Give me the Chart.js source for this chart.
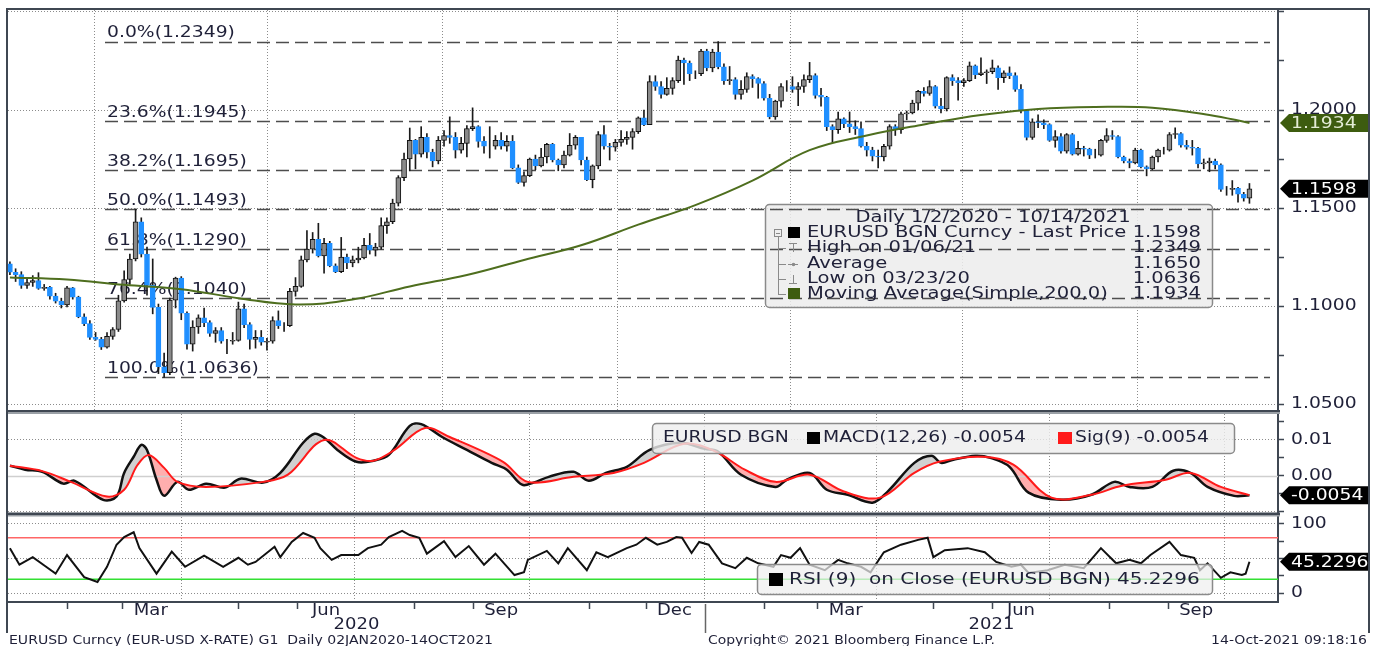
<!DOCTYPE html>
<html>
<head>
<meta charset="utf-8">
<script src="https://cdn.jsdelivr.net/npm/chart.js@4.4.0/dist/chart.umd.min.js"></script>
<style>
  html, body { margin: 0; padding: 0; background: #fff; }
  #wrap { position: relative; width: 1380px; height: 646px; overflow: hidden; }
  #wrap canvas { position: absolute; left: 0; top: 0; }
</style>
</head>
<body>
<div id="wrap">
  <canvas id="priceChart" width="1380" height="646"></canvas>
  <canvas id="macdChart" width="1380" height="646"></canvas>
  <canvas id="rsiChart" width="1380" height="646"></canvas>
</div>
<script>
// ---- data (x = calendar days since 2 Jan 2020) ----
const stepDays = 3;          // one price bar every 3 days
const firstOpen = 1.1215;
const closes = [
  1.1172,1.1160,1.1105,1.1120,1.1130,1.1090,1.1095,1.1050,1.1025,1.1005,
  1.1093,1.1045,1.0945,1.0910,1.0840,1.0830,1.0790,1.0845,1.0880,1.1026,
  1.1135,1.1240,1.1430,1.1265,1.1105,1.0993,1.0690,1.0660,1.1030,1.1142,
  1.0963,1.0805,1.0893,1.0940,1.0915,1.0860,1.0875,1.0820,1.0820,1.0825,
  1.0985,1.0905,1.0830,1.0840,1.0815,1.0820,1.0925,1.0900,1.0900,1.1075,
  1.1100,1.1235,1.1290,1.1340,1.1255,1.1320,1.1205,1.1175,1.1250,1.1220,
  1.1235,1.1245,1.1310,1.1285,1.1300,1.1410,1.1430,1.1525,1.1655,1.1750,
  1.1845,1.1775,1.1860,1.1785,1.1740,1.1845,1.1870,1.1860,1.1795,1.1830,
  1.1905,1.1915,1.1840,1.1815,1.1815,1.1845,1.1815,1.1840,1.1705,1.1630,
  1.1665,1.1750,1.1715,1.1760,1.1825,1.1745,1.1720,1.1770,1.1820,1.1860,
  1.1745,1.1645,1.1715,1.1875,1.1815,1.1810,1.1835,1.1850,1.1860,1.1890,
  1.1960,1.1925,1.2145,1.2120,1.2080,1.2110,1.2150,1.2255,1.2240,1.2185,
  1.2185,1.2300,1.2215,1.2295,1.2220,1.2150,1.2155,1.2080,1.2105,1.2170,
  1.2160,1.2135,1.2060,1.1965,1.2045,1.2120,1.2120,1.2105,1.2120,1.2155,
  1.2175,1.2075,1.2065,1.1915,1.1900,1.1955,1.1930,1.1915,1.1905,1.1815,
  1.1795,1.1765,1.1760,1.1815,1.1915,1.1900,1.1980,1.1985,1.2035,1.2095,
  1.2085,1.2120,1.2020,1.2005,1.2165,1.2150,1.2140,1.2150,1.2225,1.2180,
  1.2190,1.2195,1.2215,1.2165,1.2190,1.2175,1.2105,1.1995,1.1860,1.1940,
  1.1935,1.1925,1.1845,1.1865,1.1790,1.1875,1.1775,1.1805,1.1800,1.1770,
  1.1770,1.1845,1.1870,1.1865,1.1760,1.1740,1.1730,1.1795,1.1710,1.1700,
  1.1760,1.1795,1.1795,1.1875,1.1880,1.1820,1.1810,1.1805,1.1725,1.1730,
  1.1740,1.1720,1.1595,1.1595,1.1600,1.1570,1.1550,1.1598
];
const highs = [
  1.1225,1.1190,1.1175,1.1140,1.1155,1.1170,1.1110,1.1100,1.1065,1.1040,
  1.1100,1.1095,1.1050,1.0960,1.0925,1.0865,1.0840,1.0865,1.0890,1.1055,
  1.1180,1.1265,1.1495,1.1450,1.1300,1.1240,1.1010,1.0760,1.1040,1.1147,
  1.1150,1.0970,1.0925,1.0955,1.0990,1.0925,1.0890,1.0890,1.0830,1.0865,
  1.1020,1.1010,1.0915,1.0875,1.0875,1.0835,1.0945,1.0975,1.0915,1.1090,
  1.1145,1.1255,1.1385,1.1375,1.1422,1.1345,1.1330,1.1215,1.1350,1.1265,
  1.1255,1.1300,1.1345,1.1370,1.1320,1.1450,1.1450,1.1545,1.1665,1.1780,
  1.1908,1.1850,1.1915,1.1880,1.1800,1.1865,1.1895,1.1965,1.1885,1.1860,
  1.1920,1.2011,1.1920,1.1865,1.1915,1.1870,1.1885,1.1870,1.1870,1.1720,
  1.1685,1.1755,1.1770,1.1805,1.1830,1.1830,1.1750,1.1790,1.1880,1.1870,
  1.1860,1.1760,1.1720,1.1890,1.1920,1.1830,1.1850,1.1895,1.1890,1.1905,
  1.1965,1.2000,1.2175,1.2175,1.2145,1.2165,1.2165,1.2275,1.2265,1.2250,
  1.2200,1.2310,1.2310,1.2310,1.2349,1.2235,1.2222,1.2165,1.2150,1.2190,
  1.2180,1.2165,1.2145,1.2080,1.2050,1.2135,1.2150,1.2170,1.2140,1.2180,
  1.2243,1.2185,1.2110,1.2070,1.1925,1.1990,1.1960,1.1990,1.1945,1.1940,
  1.1835,1.1810,1.1795,1.1825,1.1925,1.1925,1.1990,1.1995,1.2050,1.2100,
  1.2115,1.2150,1.2125,1.2060,1.2170,1.2180,1.2165,1.2160,1.2245,1.2230,
  1.2266,1.2205,1.2255,1.2225,1.2200,1.2220,1.2190,1.2130,1.2000,1.1955,
  1.1975,1.1950,1.1930,1.1895,1.1880,1.1880,1.1880,1.1840,1.1815,1.1805,
  1.1800,1.1850,1.1905,1.1895,1.1870,1.1765,1.1750,1.1805,1.1800,1.1715,
  1.1765,1.1800,1.1810,1.1885,1.1909,1.1885,1.1845,1.1845,1.1810,1.1750,
  1.1755,1.1750,1.1725,1.1610,1.1640,1.1605,1.1580,1.1625
];
const lows = [
  1.1160,1.1125,1.1090,1.1090,1.1100,1.1085,1.1080,1.1035,1.1015,1.0990,
  1.0995,1.1035,1.0940,1.0900,1.0830,1.0825,1.0778,1.0785,1.0830,1.0870,
  1.1020,1.1110,1.1230,1.1250,1.1055,1.0960,1.0655,1.0636,1.0650,1.0990,
  1.0930,1.0780,1.0770,1.0860,1.0895,1.0845,1.0815,1.0810,1.0757,1.0805,
  1.0820,1.0890,1.0780,1.0785,1.0800,1.0775,1.0810,1.0885,1.0870,1.0895,
  1.1050,1.1095,1.1225,1.1270,1.1250,1.1168,1.1200,1.1170,1.1170,1.1190,
  1.1200,1.1220,1.1240,1.1265,1.1255,1.1290,1.1370,1.1420,1.1510,1.1640,
  1.1690,1.1700,1.1760,1.1755,1.1710,1.1725,1.1815,1.1830,1.1755,1.1780,
  1.1760,1.1895,1.1810,1.1780,1.1755,1.1800,1.1800,1.1790,1.1700,1.1625,
  1.1612,1.1660,1.1695,1.1710,1.1730,1.1735,1.1690,1.1705,1.1765,1.1800,
  1.1720,1.1640,1.1603,1.1700,1.1800,1.1745,1.1790,1.1815,1.1825,1.1800,
  1.1880,1.1920,1.1925,1.2100,1.2060,1.2075,1.2080,1.2140,1.2130,1.2150,
  1.2160,1.2175,1.2200,1.2195,1.2210,1.2130,1.2130,1.2055,1.2055,1.2090,
  1.2115,1.2060,1.2050,1.1955,1.1952,1.2015,1.2095,1.2090,1.2022,1.2090,
  1.2140,1.2060,1.2020,1.1895,1.1835,1.1880,1.1910,1.1885,1.1875,1.1810,
  1.1765,1.1740,1.1704,1.1740,1.1800,1.1870,1.1880,1.1950,1.1980,1.2000,
  1.2070,1.2075,1.2010,1.1985,1.1995,1.2125,1.2050,1.2120,1.2145,1.2160,
  1.2175,1.2135,1.2185,1.2105,1.2140,1.2160,1.2095,1.1985,1.1847,1.1850,
  1.1910,1.1905,1.1840,1.1810,1.1780,1.1780,1.1770,1.1770,1.1765,1.1752,
  1.1755,1.1765,1.1835,1.1850,1.1755,1.1730,1.1705,1.1725,1.1705,1.1664,
  1.1695,1.1735,1.1775,1.1790,1.1855,1.1810,1.1800,1.1770,1.1705,1.1700,
  1.1685,1.1700,1.1585,1.1565,1.1565,1.1530,1.1535,1.1524
];

// 200 day simple moving average
const maDays = [0, 30, 60, 90, 120, 150, 180, 210, 240, 270, 300, 330, 360, 390, 420, 450, 480, 510, 540, 570, 600, 630, 651];
const maVals = [1.1146, 1.1135, 1.1108, 1.1086, 1.1040, 1.1008, 1.1033, 1.1100, 1.1158, 1.1235, 1.1310, 1.1415, 1.1515, 1.1640, 1.1795, 1.1870, 1.1926, 1.1975, 1.2005, 1.2015, 1.2012, 1.1975, 1.1934];

// MACD(12,26) and signal(9)
const macdDays = [0,8,17,28,34,49,56,60,65,69,72,77,81,88,94,103,113,121,133,142,154,160,165,172,182,191,199,210,216,227,240,253,261,269,275,283,296,304,313,324,336,352,365,372,384,402,408,420,429,440,453,461,475,484,489,495,507,515,525,535,552,568,580,588,600,611,620,629,643,651];
const macdVals = [0.0028,0.0017,0.0011,-0.0022,-0.0014,-0.0067,-0.0058,0.0008,0.0053,0.0086,0.0072,-0.0011,-0.0056,-0.0017,-0.0039,-0.0022,-0.0033,-0.0008,-0.0019,0.0008,0.0092,0.0117,0.0106,0.0072,0.0039,0.0042,0.0058,0.0139,0.0144,0.0108,0.0072,0.0036,0.0017,-0.0025,-0.0019,-0.0003,0.0011,-0.0014,0.0008,0.0025,0.0072,0.0092,0.0075,0.0067,0.0003,-0.0031,-0.0011,0.0008,-0.0039,-0.0053,-0.0075,-0.0044,0.0036,0.0056,0.0036,0.0044,0.0056,0.0050,0.0025,-0.0047,-0.0067,-0.0053,-0.0017,-0.0031,-0.0031,0.0014,0.0008,-0.0031,-0.0056,-0.0054];
const sigDays = [0,17,32,51,60,67,73,81,88,103,133,146,165,182,191,202,218,231,259,272,296,317,333,354,370,386,402,420,438,457,475,488,511,527,547,568,584,607,620,636,651];
const sigVals = [0.0028,0.0013,-0.0017,-0.0058,-0.0039,0.0030,0.0058,0.0022,-0.0017,-0.0031,-0.0017,0.0003,0.0100,0.0050,0.0042,0.0072,0.0133,0.0108,0.0039,-0.0017,-0.0003,0.0008,0.0036,0.0089,0.0069,0.0017,-0.0017,0.0003,-0.0044,-0.0061,0.0008,0.0039,0.0053,0.0031,-0.0061,-0.0053,-0.0028,-0.0011,0.0008,-0.0031,-0.0054];

// RSI(9)
const rsiDays = [0,5,12,19,24,30,39,46,51,56,60,65,68,77,85,92,102,112,120,125,129,139,142,148,154,160,163,169,174,183,188,195,199,206,210,215,219,228,234,241,249,255,265,270,272,282,288,293,303,308,314,324,329,334,340,345,350,353,358,362,367,374,381,387,393,401,405,410,415,420,428,435,440,447,452,459,468,477,482,485,491,503,512,518,526,531,535,545,554,564,573,581,588,594,599,609,615,622,625,629,636,641,647,649,651];
const rsiVals = [65,41,52,38,28,55,23,16,38,70,81,88,65,28,60,38,54,38,51,41,45,67,52,74,87,80,65,48,55,55,65,70,81,90,84,80,57,75,52,68,41,57,26,30,48,61,43,65,33,59,52,65,70,80,70,74,81,80,58,74,70,43,36,51,43,38,55,51,65,41,33,48,43,38,30,59,70,77,80,52,62,65,59,45,38,41,29,33,41,36,65,43,48,43,55,74,55,51,33,43,22,30,26,28,45.2296];
const rsiUpper = 80;
const rsiLower = 20;

// fibonacci retracement of the 2020-21 range
const fibLevels = ['0.0%', '23.6%', '38.2%', '50.0%', '61.8%', '76.4%', '100.0%'];
const fibValues = [1.2349, 1.1945, 1.1695, 1.1493, 1.1290, 1.1040, 1.0636];

// legend stats
const highVal = 1.2349, highDate = '01/06/21';
const avgVal = 1.1650;
const lowVal = 1.0636, lowDate = '03/23/20';

// axis ticks
const priceLabels = [1.05, 1.10, 1.15, 1.20];
const priceTicks = [1.05, 1.075, 1.10, 1.125, 1.15, 1.175, 1.20, 1.225, 1.25];
const macdLabels = [0.01, 0];
const macdTicks = [-0.01, -0.005, 0, 0.005, 0.01, 0.015];
const rsiLabels = [100, 0];
const rsiTicks = [0, 25, 50, 75, 100];
const monthStarts = [30, 59, 90, 120, 151, 181, 212, 243, 273, 304, 334, 365, 396, 424, 455, 485, 516, 546, 577, 608, 638];
const quarterStarts = [90, 181, 273, 365, 455, 546, 638];
const monthNames = ['Mar', 'Jun', 'Sep', 'Dec', 'Mar', 'Jun', 'Sep'];
const monthMids = [74, 166, 258, 349, 439, 531, 623];
const yearNames = ['2020', '2021'];
const yearStarts = [-1, 365];

// ---- styling ----
const X_MIN = -1, X_MAX = 666;
const FONT = '"DejaVu Sans", Verdana, sans-serif';
const INK = '#1f2038';
const FRAME = '#3f4752';
const GRID = '#8c8c8c';
const MA_COLOR = '#4e6e1e';
const UP = '#8a8a8a', DOWN = '#1f8fff';

// text is drawn a bit stretched like the terminal font
function txt(ctx, s, x, y, o) {
  o = o || {};
  const size = o.size || 15;
  ctx.save();
  ctx.font = size + 'px ' + FONT;
  ctx.fillStyle = o.color || INK;
  ctx.textBaseline = 'middle';
  ctx.textAlign = 'left';
  const w0 = ctx.measureText(s).width;
  const k = o.width ? o.width / w0 : (o.sx || 1.25);
  const w = w0 * k;
  let left = x;
  if (o.align === 'right') left = x - w;
  else if (o.align === 'center') left = x - w / 2;
  ctx.translate(left, y);
  ctx.scale(k, 1);
  ctx.fillText(s, 0, 0);
  ctx.restore();
}

function boxFill(ctx, x0, y0, x1, y1, fill) {
  ctx.save();
  ctx.beginPath();
  ctx.roundRect(x0, y0, x1 - x0, y1 - y0, 4);
  ctx.fillStyle = fill;
  ctx.fill();
  ctx.restore();
}

function boxEdge(ctx, x0, y0, x1, y1) {
  ctx.save();
  ctx.beginPath();
  ctx.roundRect(x0 + 0.5, y0 + 0.5, x1 - x0, y1 - y0, 4);
  ctx.strokeStyle = '#8a8a8a';
  ctx.lineWidth = 1.5;
  ctx.stroke();
  ctx.restore();
}

function square(ctx, x, y, w, h, color) {
  ctx.fillStyle = color;
  ctx.fillRect(x, y, w, h);
}

function line(ctx, x0, y0, x1, y1, color, width) {
  ctx.save();
  ctx.strokeStyle = color;
  ctx.lineWidth = width || 1;
  ctx.beginPath();
  ctx.moveTo(x0, y0);
  ctx.lineTo(x1, y1);
  ctx.stroke();
  ctx.restore();
}

// value tag on the right axis
function tag(chart, value, text, bg, fg) {
  const ctx = chart.ctx;
  const y = chart.scales.y.getPixelForValue(value);
  const x0 = chart.chartArea.right + 2;
  ctx.save();
  ctx.beginPath();
  ctx.moveTo(x0, y);
  ctx.lineTo(x0 + 9, y - 9);
  ctx.lineTo(1369, y - 9);
  ctx.lineTo(1369, y + 9);
  ctx.lineTo(x0 + 9, y + 9);
  ctx.closePath();
  ctx.fillStyle = bg;
  ctx.fill();
  ctx.restore();
  txt(ctx, text, x0 + 11, y + 1, { color: fg });
}

function axisLabels(chart, values, fmt) {
  const y = chart.scales.y;
  values.forEach(v => txt(chart.ctx, fmt(v), chart.chartArea.right + 13, y.getPixelForValue(v)));
}

function near(a, b) { return Math.abs(a - b) < 1e-9; }

function xAxis(showBorder) {
  return {
    type: 'linear', min: X_MIN, max: X_MAX, offset: false,
    afterBuildTicks: s => { s.ticks = quarterStarts.map(v => ({ value: v })); },
    afterFit: s => { s.height = 0; },
    ticks: { display: false },
    grid: { color: GRID, lineWidth: 1, drawTicks: false },
    border: { display: showBorder, color: FRAME, width: 2, dash: [1, 2] }
  };
}

function yAxis(min, max, ticks, isMajor) {
  return {
    position: 'right', min: min, max: max,
    afterBuildTicks: s => { s.ticks = ticks.map(v => ({ value: v })); },
    afterFit: s => { s.width = 92; },
    ticks: { display: false },
    grid: {
      color: c => (c.tick && isMajor(c.tick.value)) ? GRID : 'rgba(0,0,0,0)',
      lineWidth: 1, tickColor: FRAME, tickLength: 6, tickWidth: 1.5
    },
    border: { color: FRAME, width: 2, dash: [1, 2] }
  };
}

function baseOptions(padTop, padBottom) {
  return {
    responsive: false, animation: false, events: [],
    layout: { padding: { left: 8, right: 10, top: padTop, bottom: padBottom } },
    plugins: { legend: { display: false }, tooltip: { enabled: false } }
  };
}

// ---- price panel ----
const bodies = closes.map((c, i) => ({ x: i * stepDays, y: [i === 0 ? firstOpen : closes[i - 1], c] }));
const wicks = closes.map((c, i) => ({ x: i * stepDays, y: [lows[i], highs[i]] }));
const isUp = c => c.raw && c.raw.y[1] >= c.raw.y[0];

const priceDecor = {
  id: 'priceDecor',
  beforeDatasetsDraw(chart) {
    const { ctx, scales: { y } } = chart;
    boxFill(ctx, 765, 204, 1212, 307, 'rgba(236,236,236,0.85)');
    ctx.save();
    ctx.strokeStyle = '#4d4d4d';
    ctx.lineWidth = 1.5;
    ctx.setLineDash([13, 6]);
    fibValues.forEach(v => {
      const py = Math.round(y.getPixelForValue(v)) + 0.5;
      ctx.beginPath();
      ctx.moveTo(105, py);
      ctx.lineTo(1270, py);
      ctx.stroke();
    });
    ctx.restore();
    fibValues.forEach((v, i) => {
      txt(ctx, fibLevels[i] + '(' + v.toFixed(4) + ')', 107, y.getPixelForValue(v) - 8);
    });
  },
  afterDatasetsDraw(chart) {
    const ctx = chart.ctx;
    const last = closes[closes.length - 1];
    const maLast = maVals[maVals.length - 1];
    boxEdge(ctx, 765, 204, 1212, 307);
    const L = { size: 16, sx: 1.22 };
    const R = { size: 16, sx: 1.22, align: 'right' };
    txt(ctx, 'Daily 1/2/2020 - 10/14/2021', 993, 218, { size: 16, sx: 1.22, align: 'center' });
    const rows = [233, 248, 264, 279, 294];
    txt(ctx, 'EURUSD BGN Curncy - Last Price', 807, rows[0], L);
    txt(ctx, last.toFixed(4), 1201, rows[0], R);
    txt(ctx, 'High on ' + highDate, 807, rows[1], L);
    txt(ctx, highVal.toFixed(4), 1201, rows[1], R);
    txt(ctx, 'Average', 807, rows[2], L);
    txt(ctx, avgVal.toFixed(4), 1201, rows[2], R);
    txt(ctx, 'Low on ' + lowDate, 807, rows[3], L);
    txt(ctx, lowVal.toFixed(4), 1201, rows[3], R);
    txt(ctx, 'Moving Average(Simple,200,0)', 807, rows[4], L);
    txt(ctx, maLast.toFixed(4), 1201, rows[4], R);
    // little tree of markers at the left of the legend
    square(ctx, 788, rows[0] - 6, 12, 11, '#000');
    square(ctx, 788, rows[4] - 6, 12, 11, '#3d5c0f');
    ctx.save();
    ctx.strokeStyle = '#8a8a8a';
    ctx.lineWidth = 1;
    ctx.strokeRect(774.5, rows[0] - 3.5, 7, 7);
    line(ctx, 776, rows[0] + 0.5, 780, rows[0] + 0.5, '#8a8a8a');
    line(ctx, 778.5, rows[0] + 4, 778.5, rows[4], '#8a8a8a');
    rows.slice(1).forEach(r => line(ctx, 778, r + 0.5, 786, r + 0.5, '#8a8a8a'));
    line(ctx, 789, rows[1] - 4.5, 797, rows[1] - 4.5, '#8a8a8a');
    line(ctx, 793.5, rows[1] - 4.5, 793.5, rows[1] + 4, '#8a8a8a');
    line(ctx, 788, rows[2] + 0.5, 798, rows[2] + 0.5, '#8a8a8a');
    ctx.fillStyle = '#8a8a8a';
    ctx.beginPath(); ctx.arc(793.5, rows[2] + 0.5, 1.8, 0, Math.PI * 2); ctx.fill();
    line(ctx, 793.5, rows[3] - 4, 793.5, rows[3] + 4.5, '#8a8a8a');
    line(ctx, 789, rows[3] + 4.5, 797, rows[3] + 4.5, '#8a8a8a');
    ctx.restore();

    axisLabels(chart, priceLabels, v => v.toFixed(4));
    tag(chart, maLast, maLast.toFixed(4), '#3d5c0f', '#e4ecd6');
    tag(chart, last, last.toFixed(4), '#000', '#fff');
  }
};

new Chart(document.getElementById('priceChart'), {
  type: 'bar',
  data: {
    datasets: [
      { type: 'line', label: 'MA200', data: maDays.map((d, i) => ({ x: d, y: maVals[i] })),
        borderColor: MA_COLOR, borderWidth: 2, pointRadius: 0, tension: 0.4, fill: false, order: 0 },
      { label: 'body', data: bodies, grouped: false, barThickness: 5, borderSkipped: false, borderWidth: 1,
        backgroundColor: c => isUp(c) ? UP : DOWN, borderColor: c => isUp(c) ? '#111' : DOWN, order: 1 },
      { label: 'wick', data: wicks, grouped: false, barThickness: 1, borderWidth: 0,
        backgroundColor: '#1a1a1a', order: 2 }
    ]
  },
  options: Object.assign(baseOptions(10, 236), {
    scales: {
      x: xAxis(false),
      y: yAxis(1.04694, 1.25102, priceTicks, v => near(Math.round(v * 20), v * 20))
    }
  }),
  plugins: [priceDecor]
});

// ---- MACD panel ----
const macdDecor = {
  id: 'macdDecor',
  beforeDatasetsDraw(chart) {
    const { ctx, chartArea: a, scales: { y } } = chart;
    const y0 = Math.round(y.getPixelForValue(0)) + 0.5;
    line(ctx, a.left, y0, a.right, y0, '#cfcfcf', 1.5);
  },
  afterDatasetsDraw(chart) {
    const ctx = chart.ctx;
    const mLast = macdVals[macdVals.length - 1];
    const sLast = sigVals[sigVals.length - 1];
    boxFill(ctx, 652, 423, 1234, 453, 'rgba(238,238,238,0.8)');
    boxEdge(ctx, 652, 423, 1234, 453);
    txt(ctx, 'EURUSD BGN', 663, 438);
    square(ctx, 807, 432, 13, 12, '#000');
    txt(ctx, 'MACD(12,26) ' + mLast.toFixed(4), 823, 438);
    square(ctx, 1058, 432, 14, 12, '#ff1a1a');
    txt(ctx, 'Sig(9) ' + sLast.toFixed(4), 1075, 438);
    axisLabels(chart, macdLabels, v => v.toFixed(2));
    tag(chart, mLast, mLast.toFixed(4), '#000', '#fff');
  }
};

new Chart(document.getElementById('macdChart'), {
  type: 'line',
  data: {
    datasets: [
      { label: 'MACD', data: macdDays.map((d, i) => ({ x: d, y: macdVals[i] })),
        borderColor: '#111', borderWidth: 2.5, pointRadius: 0, tension: 0.35, order: 2,
        fill: { target: 1, above: 'rgba(190,190,190,0.7)', below: 'rgba(255,140,140,0.7)' } },
      { label: 'Signal', data: sigDays.map((d, i) => ({ x: d, y: sigVals[i] })),
        borderColor: '#ff1a1a', borderWidth: 2, pointRadius: 0, tension: 0.35, fill: false, order: 1 }
    ]
  },
  options: Object.assign(baseOptions(414, 134), {
    plugins: { legend: { display: false }, tooltip: { enabled: false }, filler: { drawTime: 'beforeDatasetsDraw' } },
    scales: {
      x: xAxis(false),
      y: yAxis(-0.0101, 0.017222, macdTicks, v => near(Math.abs(v), 0.01))
    }
  }),
  plugins: [macdDecor]
});

// ---- RSI panel + time axis + frame ----
const rsiDecor = {
  id: 'rsiDecor',
  afterDatasetsDraw(chart) {
    const ctx = chart.ctx;
    const rLast = rsiVals[rsiVals.length - 1];
    boxFill(ctx, 757, 564, 1212, 594, 'rgba(238,238,238,0.72)');
    boxEdge(ctx, 757, 564, 1212, 594);
    square(ctx, 769, 573, 14, 13, '#000');
    txt(ctx, 'RSI (9)  on Close (EURUSD BGN) ' + rLast.toFixed(4), 789, 580, { size: 16, sx: 1.25 });
    axisLabels(chart, rsiLabels, v => String(v));
    tag(chart, rLast, rLast.toFixed(4), '#000', '#fff');
  },
  afterDraw(chart) {
    const { ctx, chartArea: a, scales: { x } } = chart;
    // month ticks and labels
    monthStarts.forEach(d => {
      if (quarterStarts.includes(d)) return;
      const px = Math.round(x.getPixelForValue(d)) + 0.5;
      line(ctx, px, a.bottom + 1, px, a.bottom + 7, FRAME, 1.5);
    });
    monthMids.forEach((d, i) => txt(ctx, monthNames[i], x.getPixelForValue(d), 611, { sx: 1.2, align: 'center' }));
    yearStarts.forEach((d, i) => {
      const end = i + 1 < yearStarts.length ? yearStarts[i + 1] : X_MAX;
      const cx = (x.getPixelForValue(d) + x.getPixelForValue(end)) / 2;
      txt(ctx, yearNames[i], cx, 625, { sx: 1.2, align: 'center' });
    });
    const ySep = Math.round(x.getPixelForValue(yearStarts[1])) + 0.5;
    line(ctx, ySep, a.bottom + 2, ySep, 633, '#666', 1.5);

    // footer
    txt(ctx, 'EURUSD Curncy (EUR-USD X-RATE) G1  Daily 02JAN2020-14OCT2021', 9, 641, { size: 12, width: 484 });
    txt(ctx, 'Copyright\u00a9 2021 Bloomberg Finance L.P.', 708, 641, { size: 12, width: 287 });
    txt(ctx, '14-Oct-2021 09:18:16', 1367, 641, { size: 12, width: 156, align: 'right' });

    // panel separators and outer frame
    ctx.fillStyle = FRAME;
    ctx.fillRect(7, 410, 1273, 2.5);
    ctx.fillRect(7, 512.5, 1273, 3);
    ctx.fillStyle = '#9aa0a6';
    ctx.fillRect(7, 412.5, 1273, 1.5);
    ctx.fillRect(7, 515.5, 1273, 1);
    ctx.fillStyle = FRAME;
    ctx.fillRect(6, 8, 1364, 2);
    ctx.fillRect(6, 8, 2, 625);
    ctx.fillRect(1368, 8, 2, 625);
  }
};

new Chart(document.getElementById('rsiChart'), {
  type: 'line',
  data: {
    datasets: [
      { label: 'RSI', data: rsiDays.map((d, i) => ({ x: d, y: rsiVals[i] })),
        borderColor: '#111', borderWidth: 2, pointRadius: 0, tension: 0, fill: false, order: 0 },
      { label: 'upper', data: [{ x: X_MIN, y: rsiUpper }, { x: X_MAX, y: rsiUpper }],
        borderColor: '#ff6666', borderWidth: 1.5, pointRadius: 0, fill: false, order: 1 },
      { label: 'lower', data: [{ x: X_MIN, y: rsiLower }, { x: X_MAX, y: rsiLower }],
        borderColor: '#33e033', borderWidth: 1.5, pointRadius: 0, fill: false, order: 1 }
    ]
  },
  options: Object.assign(baseOptions(517, 44), {
    scales: {
      x: xAxis(true),
      y: yAxis(-13.04, 110.14, rsiTicks, v => v % 50 === 0)
    }
  }),
  plugins: [rsiDecor]
});
</script>
</body>
</html>
